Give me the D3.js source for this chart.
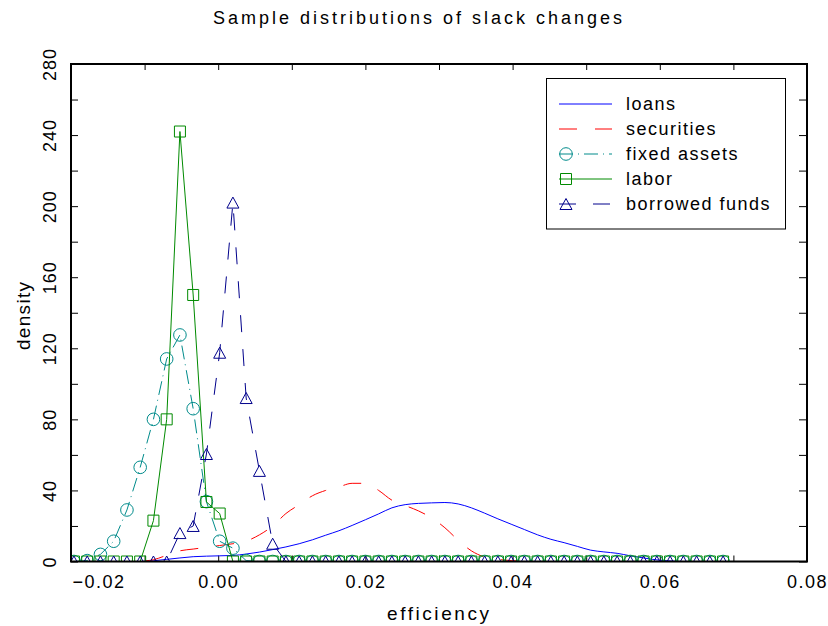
<!DOCTYPE html>
<html>
<head>
<meta charset="utf-8">
<script src="https://cdn.jsdelivr.net/npm/d3@7/dist/d3.min.js"></script>
<style>
  body { margin: 0; background: #fff; }
  text { font-family: "Liberation Sans", Arial, sans-serif; fill: #000; }
</style>
</head>
<body>
<div id="chart"></div>
<script>
// efficiency grid the densities were evaluated on
var xGrid = [-0.0196, -0.0178, -0.0160, -0.0142, -0.0124, -0.0106, -0.0088, -0.0070, -0.0052, -0.0034,
             -0.0016, 0.0002, 0.0020, 0.0038, 0.0056, 0.0074, 0.0092, 0.0110, 0.0128, 0.0146,
             0.0164, 0.0182, 0.0200, 0.0218, 0.0236, 0.0254, 0.0272, 0.0290, 0.0308, 0.0326,
             0.0344, 0.0362, 0.0380, 0.0398, 0.0416, 0.0434, 0.0452, 0.0470, 0.0488, 0.0506,
             0.0524, 0.0542, 0.0560, 0.0578, 0.0596, 0.0614, 0.0632, 0.0650, 0.0668, 0.0686];

var loans = [0, 0, 0, 0, 0, 0, 0.4, 1.2, 2.0, 2.7,
             3.0, 3.2, 3.4, 4.2, 5.3, 6.7, 8.2, 10.0, 12.2, 14.8,
             17.3, 20.3, 23.5, 26.8, 30.2, 32.0, 32.7, 33.0, 33.2, 32.4,
             30.2, 27.2, 24.0, 21.0, 18.0, 15.0, 12.5, 10.6, 8.5, 6.4,
             5.4, 4.6, 3.2, 2.0, 0.9, 0.3, 0, 0, 0, 0];

var securities = [0, 0, 0, 0, 0, 0.2, 1.0, 3.5, 6.0, 7.0,
                  8.0, 9.0, 10.0, 11.5, 15.0, 20.0, 27.0, 32.0, 37.0, 40.0,
                  42.0, 44.0, 44.0, 40.0, 34.5, 31.5, 28.5, 24.5, 19.0, 12.0,
                  6.0, 2.5, 1.2, 0.5, 0.2, 0, 0, 0, 0, 0,
                  0, 0, 0, 0, 0, 0, 0, 0, 0, 0];

var fixedAssets = [0, 0.5, 4.0, 11.4, 29.0, 53.0, 80.0, 114.0, 127.5, 86.0,
                   33.7, 11.4, 7.5, 0.5, 0, 0, 0, 0, 0, 0,
                   0, 0, 0, 0, 0, 0, 0, 0, 0, 0,
                   0, 0, 0, 0, 0, 0, 0, 0, 0, 0,
                   0, 0, 0, 0, 0, 0, 0, 0, 0, 0];

var labor = [0, 0, 0, 0, 0, 0, 23.0, 80.0, 242.0, 150.0,
             33.5, 27.0, 0, 0, 0, 0, 0, 0, 0, 0,
             0, 0, 0, 0, 0, 0, 0, 0, 0, 0,
             0, 0, 0, 0, 0, 0, 0, 0, 0, 0,
             0, 0, 0, 0, 0, 0, 0, 0, 0, 0];

var borrowedFunds = [0, 0, 0, 0, 0, 0, 0, 0, 16.0, 20.0,
                     60.5, 117.5, 202.0, 92.0, 51.0, 10.0, 0, 0, 0, 0,
                     0, 0, 0, 0, 0, 0, 0, 0, 0, 0,
                     0, 0, 0, 0, 0, 0, 0, 0, 0, 0,
                     0, 0, 0, 0, 0, 0, 0, 0, 0, 0];

var seriesNames = ["loans", "securities", "fixed assets", "labor", "borrowed funds"];
var seriesValues = [loans, securities, fixedAssets, labor, borrowedFunds];
var seriesColors = ["#0000ff", "#ff0000", "#008b8b", "#008a00", "#00008b"];
var seriesDash = [null, "18,18", "14,5,1,5", null, "17,17"];
var seriesMarker = [null, null, "circle", "square", "triangle"];

var xDomain = [-0.02, 0.08], yDomain = [0, 280];

(function() {
  var width = 828, height = 626;
  var pL = 71, pR = 807, pT = 64, pB = 561.5;

  var svg = d3.select("#chart").append("svg")
      .attr("width", width)
      .attr("height", height)
      .style("background", "#fff");

  var x = d3.scaleLinear().domain(xDomain).range([pL, pR]);
  var y = d3.scaleLinear().domain(yDomain).range([pB, pT]);

  svg.append("defs").append("clipPath").attr("id", "plotclip")
    .append("rect")
      .attr("x", pL).attr("y", pT)
      .attr("width", pR - pL).attr("height", pB - pT);

  // title
  svg.append("text")
      .attr("x", 417.5).attr("y", 24)
      .attr("text-anchor", "middle")
      .attr("textLength", 409).attr("lengthAdjust", "spacing")
      .style("font-size", "18px")
      .text("Sample distributions of slack changes");

  // axes, ticks pointing inward
  var fmtX = d3.format(".2f");
  var xTickVals = x.ticks(10);
  var yTickVals = y.ticks(14);

  var gx = svg.append("g")
      .attr("transform", "translate(0," + pB + ")")
      .call(d3.axisBottom(x).tickValues(xTickVals).tickSize(-6).tickPadding(14)
        .tickFormat(function(d) { return Math.round(d * 100) % 2 === 0 ? fmtX(d) : ""; }));
  gx.select(".domain").remove();
  gx.selectAll("text")
      .style("font-size", "18px").style("letter-spacing", "1.5px")
      .attr("text-anchor", function(d) { return d === xDomain[0] ? "start" : "middle"; })
      .attr("x", function(d) { return d === xDomain[0] ? 1 : 0; });

  var gxt = svg.append("g")
      .attr("transform", "translate(0," + pT + ")")
      .call(d3.axisTop(x).tickValues(xTickVals).tickSize(-6).tickFormat(""));
  gxt.select(".domain").remove();

  var gy = svg.append("g")
      .attr("transform", "translate(" + pL + ",0)")
      .call(d3.axisLeft(y).tickValues(yTickVals).tickSize(-7)
        .tickFormat(function(d) { return d % 40 === 0 ? d : ""; }));
  gy.select(".domain").remove();
  gy.selectAll("text")
      .attr("x", 0).attr("y", -15).attr("dy", 0)
      .attr("text-anchor", "middle")
      .attr("transform", "rotate(-90)")
      .style("font-size", "18px").style("letter-spacing", "1px");

  var gyr = svg.append("g")
      .attr("transform", "translate(" + pR + ",0)")
      .call(d3.axisRight(y).tickValues(yTickVals).tickSize(-8).tickFormat(""));
  gyr.select(".domain").remove();

  svg.selectAll(".tick line").attr("stroke", "#000").attr("stroke-width", 1);

  // axis titles
  svg.append("text")
      .attr("x", 438).attr("y", 620)
      .attr("text-anchor", "middle")
      .attr("textLength", 102).attr("lengthAdjust", "spacing")
      .style("font-size", "19px")
      .text("efficiency");

  svg.append("text")
      .attr("transform", "translate(30,316) rotate(-90)")
      .attr("text-anchor", "middle")
      .attr("textLength", 68).attr("lengthAdjust", "spacing")
      .style("font-size", "19px")
      .text("density");

  // series
  var plot = svg.append("g").attr("clip-path", "url(#plotclip)");

  var line = d3.line()
      .x(function(d) { return x(d[0]); })
      .y(function(d) { return y(d[1]); });
  var smoothLine = d3.line()
      .curve(d3.curveMonotoneX)
      .x(function(d) { return x(d[0]); })
      .y(function(d) { return y(d[1]); });

  function markerPath(type) {
    if (type === "square") return "M-5.5,-5.5H5.5V5.5H-5.5Z";
    if (type === "triangle") return "M-6,5.5L0,-5.5L6,5.5Z";
    return d3.symbol(d3.symbolCircle, Math.PI * 6.3 * 6.3)();
  }

  seriesValues.forEach(function(vals, i) {
    var pts = xGrid.map(function(xv, j) { return [xv, vals[j]]; });
    plot.append("path")
        .datum(pts)
        .attr("fill", "none")
        .attr("stroke", seriesColors[i])
        .attr("stroke-width", 1)
        .attr("stroke-dasharray", seriesDash[i])
        .attr("d", seriesMarker[i] ? line : smoothLine);
    if (seriesMarker[i]) {
      plot.selectAll(".m" + i)
        .data(pts)
        .enter().append("path")
          .attr("class", "m" + i)
          .attr("transform", function(d) { return "translate(" + x(d[0]) + "," + y(d[1]) + ")"; })
          .attr("d", markerPath(seriesMarker[i]))
          .attr("fill", "none")
          .attr("stroke", seriesColors[i])
          .attr("stroke-width", 1);
    }
  });

  // frame
  svg.append("rect")
      .attr("x", pL).attr("y", pT)
      .attr("width", pR - pL).attr("height", pB - pT)
      .attr("fill", "none").attr("stroke", "#000").attr("stroke-width", 2);

  // legend
  var legend = svg.append("g");
  legend.append("rect")
      .attr("x", 546.5).attr("y", 78.5)
      .attr("width", 239).attr("height", 150.5)
      .attr("fill", "#fff").attr("stroke", "#000").attr("stroke-width", 1);

  seriesNames.forEach(function(name, i) {
    var ly = 104 + i * 25;
    legend.append("line")
        .attr("x1", 559).attr("x2", 612)
        .attr("y1", ly).attr("y2", ly)
        .attr("stroke", seriesColors[i])
        .attr("stroke-width", 1)
        .attr("stroke-dasharray", seriesDash[i]);
    if (seriesMarker[i]) {
      legend.append("path")
          .attr("transform", "translate(566," + ly + ")")
          .attr("d", markerPath(seriesMarker[i]))
          .attr("fill", "none")
          .attr("stroke", seriesColors[i])
          .attr("stroke-width", 1);
    }
    legend.append("text")
        .attr("x", 626).attr("y", ly + 6)
        .style("font-size", "18px").style("letter-spacing", "1.5px")
        .text(name);
  });
})();
</script>
</body>
</html>
